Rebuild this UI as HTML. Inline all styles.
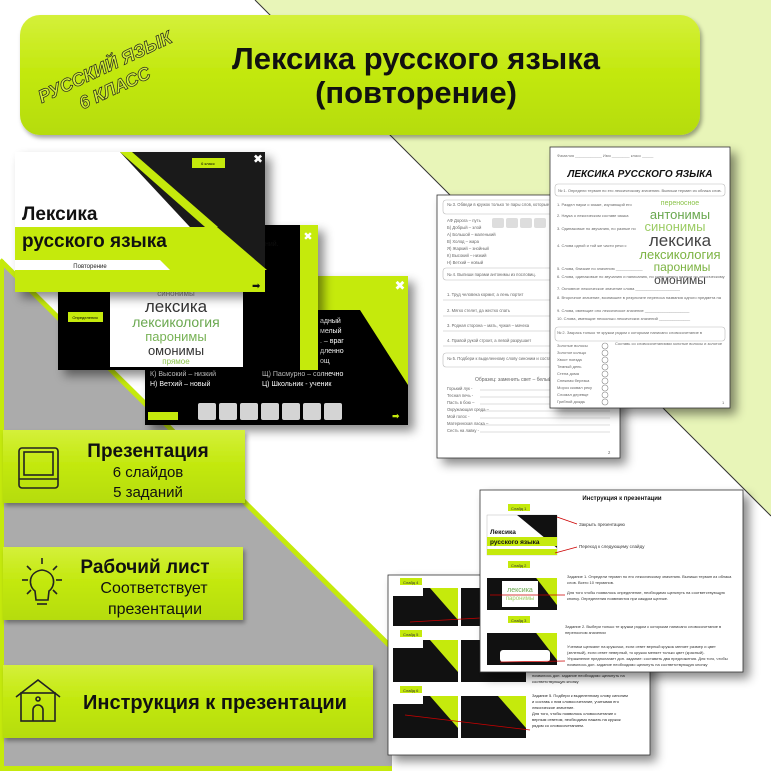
<!DOCTYPE html>
<html><head><meta charset="utf-8"><style>
html,body{margin:0;padding:0;background:#fff}
svg{display:block}
text{font-family:"Liberation Sans","DejaVu Sans",sans-serif}
</style></head><body>
<svg width="771" height="771" viewBox="0 0 771 771" xmlns="http://www.w3.org/2000/svg">
<defs>
<linearGradient id="lime" x1="0" y1="0" x2="0" y2="1">
<stop offset="0" stop-color="#d4f03a"/><stop offset="0.5" stop-color="#c2e80c"/><stop offset="1" stop-color="#b5dc08"/>
</linearGradient>
<filter id="sh" x="-10%" y="-10%" width="130%" height="130%"><feDropShadow dx="6" dy="6" stdDeviation="5" flood-color="#000" flood-opacity="0.45"/></filter>
<filter id="sh2" x="-10%" y="-10%" width="130%" height="130%"><feDropShadow dx="2" dy="3" stdDeviation="2" flood-color="#000" flood-opacity="0.35"/></filter>
</defs>
<!-- background -->
<rect width="771" height="771" fill="#fff"/>
<polygon points="255,0 771,0 771,516" fill="#e8f5b8"/>
<line x1="255" y1="0" x2="771" y2="516" stroke="#333" stroke-width="1"/>
<polygon points="0,262 392,650 392,771 0,771" fill="#ababab"/>
<line x1="0" y1="260" x2="392" y2="648" stroke="#c5ea0c" stroke-width="5"/>
<rect x="0" y="260" width="4" height="511" fill="#c5ea0c"/>
<rect x="0" y="766" width="392" height="5" fill="#c5ea0c"/>

<!-- title -->
<rect x="20" y="15" width="680" height="120" rx="20" fill="url(#lime)" filter="url(#sh2)"/>
<text x="416" y="69" font-size="31" font-weight="bold" text-anchor="middle" fill="#111">Лексика русского языка</text>
<text x="416" y="103" font-size="31" font-weight="bold" text-anchor="middle" fill="#111">(повторение)</text>
<g transform="translate(110,78) rotate(-25)" font-weight="bold" font-style="italic" fill="#d4f03a" stroke="#222" stroke-width="0.7" text-anchor="middle">
<text x="0" y="-6" font-size="18">РУССКИЙ ЯЗЫК</text>
<text x="0" y="17" font-size="18">6 КЛАСС</text>
</g>

<!-- slide 3 (back) -->
<g filter="url(#sh)">
<rect x="145" y="276" width="263" height="149" fill="#000"/>
</g>
<polygon points="300,276 408,276 408,385 360,310 300,310" fill="#c5ea0c"/>
<text x="400" y="290" font-size="13" fill="#fff" font-weight="bold" text-anchor="middle">✖</text>
<g font-size="7" fill="#fff">
<text x="320" y="323">адный</text><text x="320" y="333">мелый</text><text x="320" y="343">. – враг</text>
<text x="320" y="353">дленно</text><text x="320" y="363">ощ</text>
<text x="150" y="376">К) Высокий – низкий</text><text x="262" y="376">Щ) Пасмурно – солнечно</text>
<text x="150" y="386">Н) Ветхий – новый</text><text x="262" y="386">Ц) Школьник - ученик</text>
</g>
<g fill="#d4d4d4">
<rect x="198" y="403" width="18" height="17" rx="2"/><rect x="219" y="403" width="18" height="17" rx="2"/>
<rect x="240" y="403" width="18" height="17" rx="2"/><rect x="261" y="403" width="18" height="17" rx="2"/>
<rect x="282" y="403" width="18" height="17" rx="2"/><rect x="303" y="403" width="18" height="17" rx="2"/>
<rect x="324" y="403" width="18" height="17" rx="2"/>
</g>
<rect x="148" y="412" width="30" height="8" fill="#c5ea0c"/>
<text x="392" y="419" font-size="9" fill="#c5ea0c" font-weight="bold">➡</text>

<!-- slide 2 -->
<g filter="url(#sh)">
<rect x="58" y="225" width="260" height="145" fill="#000"/>
</g>
<rect x="58" y="225" width="240" height="34" fill="#fff"/>
<polygon points="250,225 300,225 300,370 290,370 270,320" fill="#000"/>
<rect x="300" y="225" width="18" height="145" fill="#c5ea0c"/>
<text x="308" y="240" font-size="11" fill="#fff" text-anchor="middle" font-weight="bold">✖</text>
<text x="265" y="246" font-size="7" fill="#111">ний.</text>
<rect x="68" y="312" width="35" height="10" fill="#c5ea0c"/>
<text x="85" y="319" font-size="4" text-anchor="middle">Определения</text>
<rect x="110" y="290" width="133" height="77" fill="#fff"/>
<g text-anchor="middle">
<text x="176" y="296" font-size="8" fill="#888">синонимы</text>
<text x="176" y="312" font-size="17" fill="#333">лексика</text>
<text x="176" y="327" font-size="14" fill="#6aa84f">лексикология</text>
<text x="176" y="341" font-size="13" fill="#77b255">паронимы</text>
<text x="176" y="355" font-size="13" fill="#333">омонимы</text>
<text x="176" y="364" font-size="8" fill="#8bc34a">прямое</text>
</g>
<text x="310" y="365" font-size="9" fill="#c5ea0c">➡</text>

<!-- slide 1 -->
<g filter="url(#sh)">
<rect x="15" y="152" width="250" height="140" fill="#fff"/>
</g>
<polygon points="120,152 265,152 265,270 230,270" fill="#1a1a1a"/>
<polygon points="120,152 132,152 218,227 205,227" fill="#c5ea0c"/>
<polygon points="15,227 217,227 267,270 15,270" fill="#c5ea0c"/>
<polygon points="15,260 160,260 170,270 15,270" fill="#fff"/>
<rect x="15" y="270" width="250" height="22" fill="#c5ea0c"/>
<rect x="192" y="158" width="33" height="10" fill="#c5ea0c"/>
<text x="208" y="165" font-size="4" text-anchor="middle">6 класс</text>
<text x="258" y="163" font-size="12" fill="#fff" text-anchor="middle" font-weight="bold">✖</text>
<text x="22" y="220" font-size="19" font-weight="bold" fill="#111">Лексика</text>
<text x="22" y="247" font-size="19" font-weight="bold" fill="#111">русского языка</text>
<text x="90" y="268" font-size="6" fill="#222" text-anchor="middle">Повторение</text>
<text x="252" y="289" font-size="10" fill="#111">➡</text>

<!-- worksheet page 2 -->
<g filter="url(#sh)"><rect x="437" y="195" width="183" height="263" fill="#fff" stroke="#333" stroke-width="0.8"/></g>
<g stroke="#bbb" stroke-width="0.6">
<rect x="443" y="200" width="170" height="14" rx="3" fill="none"/>
<rect x="443" y="268" width="170" height="12" rx="3" fill="none"/>
<rect x="443" y="353" width="170" height="14" rx="3" fill="none"/>
<line x1="443" y1="300" x2="600" y2="300"/><line x1="443" y1="316" x2="600" y2="316"/>
<line x1="443" y1="331" x2="600" y2="331"/><line x1="443" y1="346" x2="600" y2="346"/>
<line x1="480" y1="390" x2="610" y2="390"/><line x1="480" y1="397" x2="610" y2="397"/>
<line x1="480" y1="404" x2="610" y2="404"/><line x1="480" y1="411" x2="610" y2="411"/>
<line x1="480" y1="418" x2="610" y2="418"/><line x1="480" y1="425" x2="610" y2="425"/>
<line x1="480" y1="432" x2="610" y2="432"/>
</g>
<g font-size="4.2" fill="#666">
<text x="447" y="206">№ 3. Обведи в кружок только те пары слов, которые</text>
<text x="447" y="222">АФ Дорога – путь</text><text x="447" y="229">Б) Добрый – злой</text>
<text x="447" y="236">А) Большой – маленький</text><text x="447" y="243">В) Холод – жара</text>
<text x="447" y="250">Я) Жаркий – знойный</text><text x="447" y="257">К) Высокий – низкий</text>
<text x="447" y="264">Н) Ветхий – новый</text>
<text x="447" y="276">№ 4. Выпиши парами антонимы из пословиц.</text>
<text x="447" y="296">1. Труд человека кормит, а лень портит</text>
<text x="447" y="312">2. Мягко стелет, да жестко спать</text>
<text x="447" y="327">3. Родная сторона – мать, чужая – мачеха</text>
<text x="447" y="342">4. Правой рукой строит, а левой разрушает</text>
<text x="447" y="360">№ 5. Подбери к выделенному слову синоним и составь</text>
<text x="475" y="381" font-size="5">Образец: заменить свет – белый свет</text>
<text x="447" y="390">Горький лук -</text><text x="447" y="397">Тесная печь -</text>
<text x="447" y="404">Пасть в бою –</text><text x="447" y="411">Окружающая среда –</text>
<text x="447" y="418">Мой голос -</text><text x="447" y="425">Материнская ласка –</text>
<text x="447" y="432">Сесть на лавку -</text>
<text x="608" y="454">2</text>
</g>
<g fill="#ddd"><rect x="492" y="218" width="12" height="10" rx="2"/><rect x="506" y="218" width="12" height="10" rx="2"/><rect x="520" y="218" width="12" height="10" rx="2"/><rect x="534" y="218" width="12" height="10" rx="2"/></g>

<!-- worksheet page 1 -->
<g filter="url(#sh)"><rect x="550" y="147" width="180" height="261" fill="#fff" stroke="#333" stroke-width="0.8"/></g>
<text x="557" y="157" font-size="4" fill="#777">Фамилия ____________ Имя ________ класс _____</text>
<text x="640" y="177" font-size="10" font-weight="bold" font-style="italic" text-anchor="middle" fill="#111">ЛЕКСИКА РУССКОГО ЯЗЫКА</text>
<g stroke="#bbb" stroke-width="0.6" fill="none">
<rect x="555" y="184" width="170" height="12" rx="3"/>
<rect x="555" y="327" width="170" height="14" rx="3"/>
</g>
<g font-size="4" fill="#666">
<text x="558" y="192">№ 1. Определи термин по его лексическому значению. Выпиши термин из облака слов.</text>
<text x="557" y="206">1. Раздел науки о языке, изучающий его</text>
<text x="557" y="217">2. Наука о лексическом составе языка</text>
<text x="557" y="230">3. Одинаковые по звучанию, но разные по</text>
<text x="557" y="247">4. Слова одной и той же части речи с</text>
<text x="557" y="270">5. Слова, близкие по значению ____________</text>
<text x="557" y="278">6. Слова, одинаковые по звучанию и написанию, но совершенно разные по лексическому</text>
<text x="557" y="290">7. Основное лексическое значение слова ____________________</text>
<text x="557" y="299">8. Вторичное значение, возникшее в результате переноса названия одного предмета на</text>
<text x="557" y="312">9. Слова, имеющие оно лексическое значение ____________________</text>
<text x="557" y="320">10. Слова, имеющие несколько лексических значений ______________</text>
<text x="557" y="334">№ 2. Закрась только те кружки рядом с которыми написано словосочетание в</text>
<text x="557" y="347">Золотые волосы</text><text x="557" y="354">Золотое кольцо</text>
<text x="557" y="361">Хвост поезда</text><text x="557" y="368">Темный день</text>
<text x="557" y="375">Стена дома</text><text x="557" y="382">Снежная березка</text>
<text x="557" y="389">Мороз сковал реку</text><text x="557" y="396">Сломал деревце</text>
<text x="557" y="403">Грибной дождь</text>
<text x="615" y="345">Составь со словосочетаниями золотые волосы и золотое</text>
<text x="722" y="404">1</text>
</g>
<g fill="none" stroke="#888" stroke-width="0.6">
<circle cx="605" cy="346" r="3"/><circle cx="605" cy="353" r="3"/><circle cx="605" cy="360" r="3"/>
<circle cx="605" cy="367" r="3"/><circle cx="605" cy="374" r="3"/><circle cx="605" cy="381" r="3"/>
<circle cx="605" cy="388" r="3"/><circle cx="605" cy="395" r="3"/><circle cx="605" cy="402" r="3"/>
</g>
<g text-anchor="middle">
<text x="680" y="205" font-size="7" fill="#8bc34a">переносное</text>
<text x="680" y="219" font-size="13" fill="#6aa84f">антонимы</text>
<text x="675" y="231" font-size="13" fill="#9ccc65">синонимы</text>
<text x="680" y="246" font-size="17" fill="#444">лексика</text>
<text x="680" y="259" font-size="13" fill="#7cb342">лексикология</text>
<text x="682" y="271" font-size="12" fill="#7cb342">паронимы</text>
<text x="680" y="284" font-size="12" fill="#444">омонимы</text>
</g>

<!-- instruction pages -->
<g filter="url(#sh)"><rect x="388" y="575" width="262" height="180" fill="#fff" stroke="#333" stroke-width="0.8"/></g>
<g font-size="4" fill="#333">
<rect x="400" y="578" width="22" height="7" fill="#c5ea0c"/><text x="403" y="584">Слайд 4</text>
<rect x="400" y="630" width="22" height="7" fill="#c5ea0c"/><text x="403" y="636">Слайд 5</text>
<rect x="400" y="686" width="22" height="7" fill="#c5ea0c"/><text x="403" y="692">Слайд 6</text>
</g>
<g>
<rect x="393" y="588" width="65" height="38" fill="#111"/><polygon points="430,588 458,588 458,620" fill="#c5ea0c"/>
<rect x="461" y="588" width="65" height="38" fill="#111"/><polygon points="498,588 526,588 526,620" fill="#c5ea0c"/>
<rect x="393" y="640" width="65" height="42" fill="#111"/><polygon points="430,640 458,640 458,672" fill="#c5ea0c"/>
<rect x="461" y="640" width="65" height="42" fill="#111"/>
<rect x="393" y="696" width="65" height="42" fill="#111"/><polygon points="430,696 458,696 458,728" fill="#c5ea0c"/>
<rect x="461" y="696" width="65" height="42" fill="#111"/><polygon points="498,696 526,696 526,728" fill="#c5ea0c"/>
<rect x="393" y="588" width="30" height="8" fill="#fff"/><rect x="393" y="640" width="30" height="8" fill="#fff"/><rect x="393" y="696" width="30" height="8" fill="#fff"/>
<line x1="410" y1="622" x2="480" y2="618" stroke="#c00" stroke-width="0.8"/>
<line x1="405" y1="715" x2="530" y2="730" stroke="#c00" stroke-width="0.8"/>
</g>
<g font-size="4" fill="#222">
<text x="532" y="697">Задание 5. Подбери к выделенному слову синоним</text>
<text x="532" y="703">и составь с ним словосочетание, учитывая его</text>
<text x="532" y="709">лексическое значение.</text>
<text x="532" y="715">Для того, чтобы появилось словосочетание с</text>
<text x="532" y="721">верным ответом, необходимо нажать на кружок</text>
<text x="532" y="727">рядом со словосочетанием.</text>
<text x="532" y="677">появилось доп. задание необходимо щелкнуть на</text>
<text x="532" y="683">соответствующую кнопку</text>
</g>

<g filter="url(#sh)"><rect x="480" y="490" width="263" height="182" fill="#fff" stroke="#333" stroke-width="0.8"/></g>
<text x="622" y="500" font-size="6" font-weight="bold" text-anchor="middle" fill="#111">Инструкция к презентации</text>
<g font-size="4" fill="#333">
<rect x="508" y="504" width="22" height="7" fill="#c5ea0c"/><text x="511" y="510">Слайд 1</text>
<rect x="508" y="561" width="22" height="7" fill="#c5ea0c"/><text x="511" y="567">Слайд 2</text>
<rect x="508" y="616" width="22" height="7" fill="#c5ea0c"/><text x="511" y="622">Слайд 3</text>
</g>
<rect x="487" y="515" width="70" height="40" fill="#fff" stroke="#aaa" stroke-width="0.4"/>
<polygon points="517,515 557,515 557,548" fill="#111"/>
<rect x="487" y="537" width="70" height="9" fill="#c5ea0c"/>
<rect x="487" y="549" width="70" height="6" fill="#c5ea0c"/>
<text x="490" y="534" font-size="6.5" font-weight="bold" fill="#111">Лексика</text>
<text x="490" y="544" font-size="6.5" font-weight="bold" fill="#111">русского языка</text>
<line x1="557" y1="517" x2="577" y2="524" stroke="#c00" stroke-width="0.8"/>
<line x1="555" y1="553" x2="577" y2="547" stroke="#c00" stroke-width="0.8"/>
<text x="579" y="526" font-size="4.5" fill="#333">Закрыть презентацию</text>
<text x="579" y="548" font-size="4.5" fill="#333">Переход к следующему слайду</text>
<rect x="487" y="570" width="70" height="40" fill="#111"/>
<polygon points="530,570 557,570 557,605" fill="#c5ea0c"/>
<rect x="487" y="570" width="70" height="8" fill="#fff"/>
<rect x="502" y="581" width="36" height="26" fill="#fff"/>
<text x="520" y="592" font-size="7" fill="#6aa84f" text-anchor="middle">лексика</text>
<text x="520" y="600" font-size="6" fill="#9ccc65" text-anchor="middle">паронимы</text>
<line x1="490" y1="595" x2="565" y2="595" stroke="#c00" stroke-width="0.8"/>
<rect x="487" y="625" width="70" height="40" fill="#111"/>
<polygon points="530,625 557,625 557,660" fill="#c5ea0c"/>
<rect x="487" y="625" width="70" height="8" fill="#fff"/>
<rect x="500" y="650" width="50" height="12" rx="3" fill="#fff"/>
<line x1="500" y1="662" x2="565" y2="661" stroke="#c00" stroke-width="0.8"/>
<g font-size="4" fill="#333">
<text x="567" y="578">Задание 1. Определи термин по его лексическому значению. Выпиши термин из облака</text>
<text x="567" y="584">слов. Всего 10 терминов.</text>
<text x="567" y="594">Для того чтобы появилось определение, необходимо щелкнуть на соответствующую</text>
<text x="567" y="600">кнопку. Определения появляются при каждом щелчке.</text>
<text x="565" y="628">Задание 2. Выбери только те кружки рядом с которыми написано словосочетание в</text>
<text x="565" y="634">переносном значении</text>
<text x="567" y="648">Ученики щелкают на кружочки, если ответ верный кружок меняет размер и цвет</text>
<text x="567" y="654">(зеленый), если ответ неверный, то кружок меняет только цвет (красный).</text>
<text x="567" y="660">Упражнение предполагает доп. задание: составить два предложения. Для того, чтобы</text>
<text x="567" y="666">появилось доп. задание необходимо щелкнуть на соответствующую кнопку</text>
</g>

<!-- left feature boxes -->
<rect x="3" y="430" width="242" height="73" fill="url(#lime)" filter="url(#sh2)"/>
<rect x="3" y="547" width="240" height="73" fill="url(#lime)" filter="url(#sh2)"/>
<rect x="3" y="665" width="370" height="73" fill="url(#lime)" filter="url(#sh2)"/>
<!-- computer icon -->
<g fill="none" stroke="#222" stroke-width="1.6">
<rect x="19" y="448" width="39" height="40" rx="3"/>
<rect x="24" y="452" width="29" height="23"/>
<line x1="19" y1="479" x2="58" y2="479"/>
</g>
<text x="148" y="457" font-size="19" font-weight="bold" text-anchor="middle" fill="#111">Презентация</text>
<text x="148" y="477" font-size="15" text-anchor="middle" fill="#111">6 слайдов</text>
<text x="148" y="497" font-size="15" text-anchor="middle" fill="#111">5 заданий</text>
<!-- bulb icon -->
<g fill="none" stroke="#222" stroke-width="1.6">
<path d="M35,591 C28,586 28,572 42,570 C56,572 56,586 49,591 L48,600 L36,600 Z"/>
<line x1="37" y1="604" x2="47" y2="604"/>
<line x1="42" y1="558" x2="42" y2="564"/><line x1="22" y1="580" x2="28" y2="580"/><line x1="56" y1="580" x2="62" y2="580"/>
<line x1="27" y1="566" x2="31" y2="570"/><line x1="57" y1="566" x2="53" y2="570"/>
<line x1="27" y1="594" x2="31" y2="590"/><line x1="57" y1="594" x2="53" y2="590"/>
</g>
<text x="145" y="573" font-size="19" font-weight="bold" text-anchor="middle" fill="#111">Рабочий лист</text>
<text x="154" y="593" font-size="16" text-anchor="middle" fill="#111">Соответствует</text>
<text x="155" y="614" font-size="16" text-anchor="middle" fill="#111">презентации</text>
<!-- house icon -->
<g fill="none" stroke="#222" stroke-width="1.6">
<path d="M16,697 L38,680 L60,697"/>
<rect x="21" y="693" width="34" height="28"/>
<path d="M33,721 L33,710 A5,5 0 0 1 43,710 L43,721"/>
<circle cx="38" cy="699" r="2"/>
</g>
<text x="215" y="709" font-size="20" font-weight="bold" text-anchor="middle" fill="#111">Инструкция к презентации</text>
</svg>
</body></html>
